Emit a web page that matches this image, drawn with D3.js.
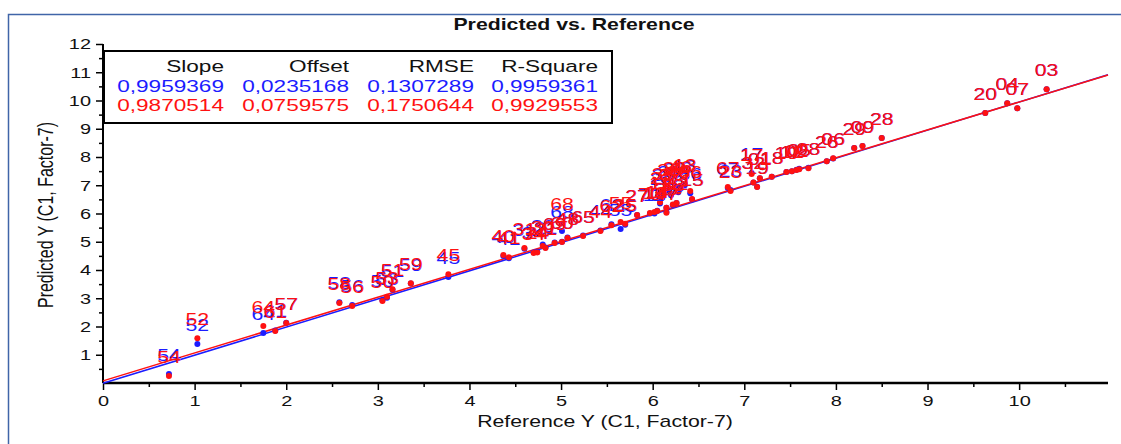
<!DOCTYPE html>
<html>
<head>
<meta charset="utf-8">
<script src="https://cdn.jsdelivr.net/npm/d3@7"></script>
<style>
  body { margin: 0; background: #fff; }
  text { font-family: "Liberation Sans", Arial, sans-serif; }
</style>
</head>
<body>
<svg id="chart" width="1121" height="444"></svg>
<script>
// samples: id, reference Y, predicted (blue = calibration, red = validation)
const sampleIds = ["54","52","64","61","57","58","56","50","53","51","59","45",
  "40","41","31","34","24","30","21","69","60","48","68","65","44","62","55","25",
  "27","70","14","11","22","33","35","36","37","38","39","42","43","46","47","13",
  "66","15","16","67","23","17","32","19","01","18","12","10","02","05","08","26",
  "06","29","09","28","20","04","07","03"];
const referenceY = [0.72,1.03,1.75,1.88,2.00,2.58,2.72,3.05,3.10,3.16,3.36,3.77,
  4.37,4.43,4.60,4.70,4.74,4.80,4.83,4.93,5.01,5.07,5.01,5.24,5.43,5.55,5.65,5.70,
  5.83,5.97,6.05,6.08,6.10,6.12,6.15,6.18,6.20,6.22,6.24,6.26,6.28,6.30,6.15,6.35,
  6.41,6.43,6.02,6.82,6.85,7.08,7.10,7.14,7.17,7.30,7.52,7.46,7.57,7.60,7.70,7.90,
  7.97,8.20,8.29,8.50,9.63,9.87,9.98,10.30];
const predictedCal = [0.32,1.38,1.77,1.86,2.13,2.86,2.76,2.93,3.02,3.30,3.52,3.75,
  4.50,4.42,4.75,4.62,4.65,4.90,4.80,4.97,5.00,5.15,5.38,5.22,5.40,5.62,5.45,5.60,
  5.95,6.00,6.10,6.35,6.55,6.70,6.20,6.80,6.65,6.30,6.90,6.37,6.75,6.95,6.05,7.00,
  6.72,6.50,6.00,6.90,6.83,7.43,7.10,6.95,7.25,7.30,7.50,7.47,7.55,7.58,7.62,7.85,
  7.95,8.32,8.39,8.67,9.56,9.90,9.73,10.40];
const predictedVal = [0.25,1.58,2.02,1.84,2.12,2.83,2.73,2.90,3.05,3.32,3.53,3.85,
  4.53,4.45,4.78,4.60,4.62,4.85,4.78,4.96,4.99,5.13,5.65,5.20,5.38,5.58,5.70,5.64,
  5.95,6.02,6.09,6.40,6.60,6.72,6.20,6.85,6.70,6.32,6.95,6.37,6.78,6.98,6.03,7.05,
  6.80,6.51,6.05,6.94,6.80,7.40,7.10,6.94,7.25,7.30,7.50,7.47,7.54,7.57,7.60,7.85,
  7.96,8.32,8.39,8.67,9.56,9.90,9.73,10.40];

const statHeaders = ["Slope", "Offset", "RMSE", "R-Square"];
const statsCal = ["0,9959369", "0,0235168", "0,1307289", "0,9959361"];
const statsVal = ["0,9870514", "0,0759575", "0,1750644", "0,9929553"];
const fitCal = [0.9959369, 0.0235168];
const fitVal = [0.9870514, 0.0759575];

const xTicks = d3.range(0, 11, 1);
const yTicks = d3.range(1, 13, 1);

const blue = "#1c1cff", red = "#ff1111";
const wide = 1.33;   // the original's text is drawn wider than it is tall

const svg = d3.select("#chart");
const x = d3.scaleLinear().domain([0, 10.97]).range([103, 1108]);
const y = d3.scaleLinear().domain([0, 12]).range([383, 44]);

// move x/y of a text into a transform so it can be widened
function stretch(sel) {
  sel.each(function() {
    const t = d3.select(this);
    const tx = +t.attr("x") || 0, ty = +t.attr("y") || 0;
    t.attr("x", null).attr("y", null)
     .attr("transform", `translate(${tx},${ty}) scale(${wide},1)`);
  });
}

// frame
svg.append("rect")
    .attr("x", 8.5).attr("y", 14.5)
    .attr("width", 1130).attr("height", 450)
    .attr("fill", "none")
    .attr("stroke", "#4065a8")
    .attr("stroke-width", 1.5);

svg.append("text")
    .attr("x", 574).attr("y", 30)
    .attr("text-anchor", "middle")
    .attr("font-size", 16)
    .attr("font-weight", "bold")
    .attr("fill", "#111")
    .text("Predicted vs. Reference")
    .call(stretch);

// axes
const xAxis = svg.append("g").attr("transform", "translate(0,383)");
xAxis.call(d3.axisBottom(x).tickValues(d3.range(0.5, 11, 1)).tickSize(4).tickFormat(""));
xAxis.call(g => g.append("g").call(d3.axisBottom(x).tickValues(xTicks).tickSize(7).tickPadding(5).tickFormat(d3.format("d"))));
xAxis.selectAll(".domain").remove();
xAxis.append("line").attr("x1", 103).attr("x2", 1108).attr("stroke", "#000").attr("stroke-width", 2.5);

const yAxis = svg.append("g").attr("transform", "translate(103,0)");
yAxis.call(d3.axisLeft(y).tickValues(d3.range(0.5, 12, 1)).tickSize(4).tickFormat(""));
yAxis.call(g => g.append("g").call(d3.axisLeft(y).tickValues(yTicks).tickSize(7).tickPadding(5).tickFormat(d3.format("d"))));
yAxis.selectAll(".domain").remove();
yAxis.append("line").attr("y1", 44).attr("y2", 383).attr("stroke", "#000").attr("stroke-width", 2);

svg.selectAll(".tick line").attr("stroke", "#000").attr("stroke-width", 1.5);
svg.selectAll(".tick text").attr("font-size", 15).attr("fill", "#111")
    .attr("font-family", "Liberation Sans, Arial, sans-serif")
    .call(stretch);

svg.append("text")
    .attr("x", 605).attr("y", 427)
    .attr("text-anchor", "middle")
    .attr("font-size", 16)
    .attr("fill", "#111")
    .text("Reference Y (C1, Factor-7)")
    .call(stretch);

svg.append("text")
    .attr("transform", `translate(53,215) rotate(-90) scale(1,${wide})`)
    .attr("text-anchor", "middle")
    .attr("font-size", 16)
    .attr("fill", "#111")
    .text("Predicted Y (C1, Factor-7)");

// regression lines
const xEnd = x.domain()[1];
[[fitCal, blue, 1.5, 1], [fitVal, red, 1.5, 0]].forEach(([f, c, w, dy]) => {
  svg.append("line")
      .attr("x1", x(0)).attr("y1", y(f[1]) + dy)
      .attr("x2", x(xEnd)).attr("y2", y(f[0] * xEnd + f[1]) + dy)
      .attr("stroke", c).attr("stroke-width", w);
});

const samples = sampleIds.map((id, i) => ({
  id, ref: referenceY[i], cal: predictedCal[i], val: predictedVal[i]
}));

function drawPoints(key, color) {
  svg.append("g").selectAll("circle")
    .data(samples).enter()
    .append("circle")
      .attr("cx", d => x(d.ref))
      .attr("cy", d => y(d[key]))
      .attr("r", 3)
      .attr("fill", color);
}
function drawLabels(key, color) {
  svg.append("g").selectAll("text")
    .data(samples).enter()
    .append("text")
      .attr("x", d => x(d.ref))
      .attr("y", d => y(d[key]) - 13)
      .attr("text-anchor", "middle")
      .attr("font-size", 16)
      .attr("fill", color)
      .text(d => d.id)
      .call(stretch);
}
drawPoints("cal", blue);
drawPoints("val", red);
drawLabels("cal", blue);
drawLabels("val", red);

// statistics box
const box = svg.append("g");
box.append("rect")
    .attr("x", 104).attr("y", 51)
    .attr("width", 508).attr("height", 72)
    .attr("fill", "#fff")
    .attr("stroke", "#000").attr("stroke-width", 2);
const colRight = [224, 349, 474, 598];
[[statHeaders, "#111", 72], [statsCal, blue, 92], [statsVal, red, 111]].forEach(([row, c, yy]) => {
  box.selectAll(null).data(row).enter()
    .append("text")
      .attr("x", (d, i) => colRight[i])
      .attr("y", yy)
      .attr("text-anchor", "end")
      .attr("font-size", 17)
      .attr("fill", c)
      .text(d => d)
      .call(stretch);
});
</script>
</body>
</html>
